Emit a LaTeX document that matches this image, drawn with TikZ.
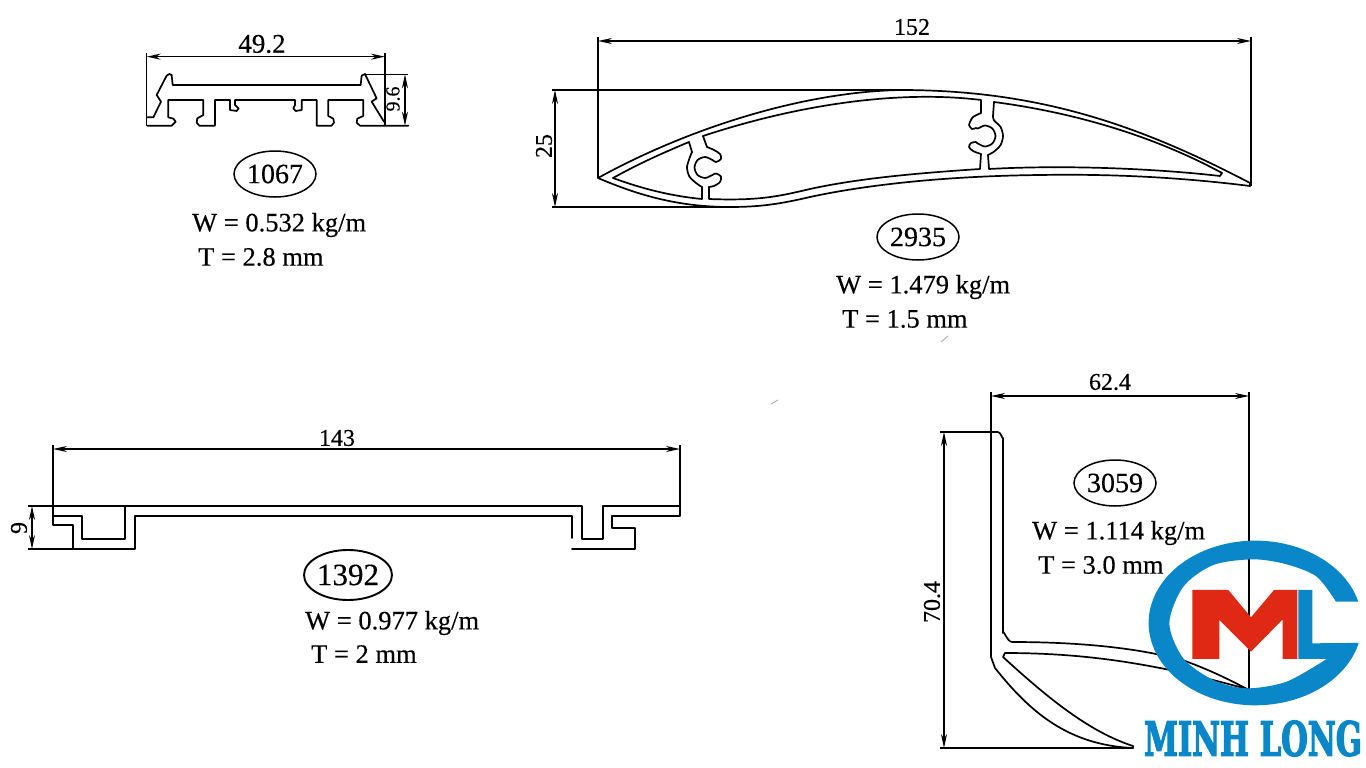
\documentclass[tikz,border=0pt]{standalone}
\usepackage{fontspec}
\usepackage{graphicx}
\setmainfont{Liberation Serif}[FakeBold=0.35]
\newfontfamily\logofont{DejaVu Serif}[UprightFont=* Condensed Bold,FakeBold=3]
\usetikzlibrary{arrows.meta,shapes.geometric}
\definecolor{logosininen}{rgb}{0.04, 0.53, 0.79}
\definecolor{logopunainen}{rgb}{0.88, 0.16, 0.08}
\tikzset{
	profiili/.style={line width=1.7pt,line join=round,line cap=round},
	apuviiva/.style={line width=1.4pt},
	mitta/.style={line width=1.4pt,{Stealth[length=14pt,width=6pt]}-{Stealth[length=14pt,width=6pt]}},
	mittateksti/.style={inner sep=0pt,font=\fontsize{24}{24}\selectfont},
	tunnus/.style={draw,ellipse,line width=1.5pt,inner sep=0pt,minimum width=82pt,minimum height=46pt,font=\fontsize{28}{28}\selectfont},
	tiedot/.style={anchor=west,inner sep=0pt,font=\fontsize{26.5}{26.5}\selectfont}
}
\begin{document}
\begin{tikzpicture}[x=1pt,y=-1pt]
	\useasboundingbox (0,0) rectangle (1366,768);
	% 1067
	\begin{scope}[shift={(130,30)},scale=0.3333]
		\draw[profiili] (52,262) -- (70,262) -- (93,215) -- (80,195) -- (110,137) -- (118,132) -- (125,135) -- (128,165) -- (692,165) -- (695,137) -- (705,132) -- (740,205) -- (725,215) -- (762,275);
		\draw[profiili] (52,287) -- (125,287) -- (137,275) -- (130,266) -- (115,262) -- (115,210) -- (220,210) -- (220,255) -- (202,265) -- (200,278) -- (208,287) -- (255,287) -- (255,210) -- (300,210) -- (300,240) -- (320,243) -- (326,235) -- (315,225) -- (315,210) -- (495,210) -- (495,225) -- (490,235) -- (497,243) -- (515,240) -- (515,210) -- (560,210) -- (560,287) -- (605,287) -- (612,278) -- (610,266) -- (595,258) -- (595,210) -- (700,210) -- (700,258) -- (682,266) -- (680,278) -- (690,287) -- (835,287);
		\draw[apuviiva] (50,68) -- (50,288);
		\draw[apuviiva] (765,68) -- (765,288);
		\draw[apuviiva] (700,133) -- (835,133);
		\draw[mitta] (50,80) -- (765,80);
		\draw[mitta] (825,133) -- (825,287);
	\end{scope}
	\node[mittateksti,font=\fontsize{27}{27}\selectfont] (mittaA) at (262,44) {49.2};
	\node[mittateksti,font=\fontsize{20}{20}\selectfont,rotate=90] (mittaB) at (393,99) {9.6};
	\node[tunnus] (tunnusA) at (275,174) {1067};
	\node[tiedot] (painoA) at (192,225) {W = 0.532 kg/m};
	\node[tiedot] (paksuusA) at (198,257) {T = 2.8 mm};
	% 2935
	\draw[profiili] (598,178) .. controls (685,130) and (800,92) .. (900,90) .. controls (1030,90) and (1130,120) .. (1250,183) -- (1250,186);
	\draw[profiili] (1250,186) .. controls (1170,176) and (1100,174) .. (1040,175) .. controls (950,176) and (870,184) .. (810,197) .. controls (780,204) and (760,207) .. (730,207) .. controls (680,207) and (640,196) .. (598,178);
	\draw[profiili] (613,178) .. controls (640,163) and (665,152) .. (689,142) -- (692,152);
	\draw[profiili] plot[smooth,tension=0.5] coordinates {(692,152) (689.4,158.5) (687,167.5) (689.4,176.5) (696,183) (702,187)};
	\draw[profiili] (702,187) -- (702,199) .. controls (670,196) and (640,188) .. (613,178);
	\draw[profiili] (703,136) -- (707,147);
	\draw[profiili] plot[smooth,tension=0.5] coordinates {(707,147) (714,150) (720,154) (721,159) (716,162) (712.4,160) (705,157) (697.6,160) (694.5,167.5) (697.6,175) (705,178) (712.4,175) (716,173.5) (721,176.5) (720,182) (714,186) (709,187)};
	\draw[profiili] (709,187) -- (709,199) .. controls (760,201) and (780,196) .. (810,189) .. controls (860,178) and (920,173) .. (980,169) -- (981,154);
	\draw[profiili] plot[smooth,tension=0.5] coordinates {(981,154) (973,151) (969,147) (971,143) (976,142) (977.6,143.4) (985,146.5) (992.4,143.4) (995.5,136) (992.4,128.6) (985,125.5) (977.6,128.6) (976,128) (972,129) (969,125) (970,122) (973,117) (981,113)};
	\draw[profiili] (981,113) -- (981,100) .. controls (900,90) and (800,104) .. (703,136);
	\draw[profiili] (994,102) -- (993,116);
	\draw[profiili] plot[smooth,tension=0.5] coordinates {(993,116) (994,120.4) (1000.6,127) (1003,136) (1000.6,145) (994,151.6) (988,155)};
	\draw[profiili] (988,155) -- (989,169) .. controls (1060,165) and (1150,168) .. (1220,176) -- (1222,173) .. controls (1150,134) and (1070,112) .. (994,102);
	\draw[apuviiva] (598,37) -- (598,178);
	\draw[apuviiva] (1251,37) -- (1251,186);
	\draw[apuviiva] (552,90) -- (900,90);
	\draw[apuviiva] (552,207) -- (725,207);
	\draw[mitta] (598,41) -- (1251,41);
	\draw[mitta] (555,90) -- (555,207);
	\node[mittateksti] (mittaC) at (912,27) {152};
	\node[mittateksti,rotate=90] (mittaD) at (544,146) {25};
	\node[tunnus] (tunnusB) at (918,237) {2935};
	\node[tiedot] (painoB) at (836,287) {W = 1.479 kg/m};
	\node[tiedot] (paksuusB) at (842,319) {T = 1.5 mm};
	% 1392
	\draw[profiili] (53,506) -- (582,506) -- (582,539) -- (603,539) -- (603,506) -- (680,506);
	\draw[profiili] (125,506) -- (125,539) -- (82,539) -- (82,516) -- (53,516);
	\draw[profiili] (53,525) -- (73,525) -- (73,549) -- (135,549) -- (135,516) -- (572,516) -- (572,538);
	\draw[profiili] (572,549) -- (635,549) -- (635,528) -- (612,528) -- (612,516) -- (680,516);
	\draw[apuviiva] (53,445) -- (53,525);
	\draw[apuviiva] (680,445) -- (680,516);
	\draw[apuviiva] (28,506) -- (53,506);
	\draw[apuviiva] (28,549) -- (73,549);
	\draw[mitta] (53,449) -- (680,449);
	\draw[mitta] (32,506) -- (32,549);
	\node[mittateksti] (mittaE) at (337,438) {143};
	\node[mittateksti,rotate=90] (mittaF) at (19,528) {9};
	\node[tunnus,line width=1.9pt,minimum width=88pt,minimum height=50pt,font=\fontsize{31}{31}\selectfont] (tunnusC) at (348,575) {1392};
	\node[tiedot] (painoC) at (305,623) {W = 0.977 kg/m};
	\node[tiedot] (paksuusC) at (311,654) {T = 2 mm};
	% 3059
	\draw[profiili] (991,432) -- (991,657) -- (995,668) .. controls (1030,712) and (1068,745) .. (1133,748) -- (1133,746) .. controls (1090,732) and (1050,700) .. (1003,657) -- (1005,653) .. controls (1070,653) and (1120,660) .. (1165,669) .. controls (1195,675) and (1225,683) .. (1247,689);
	\draw[profiili] (1247,689) .. controls (1230,680) and (1210,670) .. (1185,661) .. controls (1140,648) and (1080,642) .. (1012,642) to[out=180,in=90] (1003,633) -- (1003,438) to[out=-90,in=0] (998,432);
	\draw[apuviiva] (991,392) -- (991,432);
	\draw[apuviiva] (1249,392) -- (1249,689);
	\draw[apuviiva] (940,432) -- (998,432);
	\draw[apuviiva] (940,748) -- (1133,748);
	\draw[mitta] (991,396) -- (1249,396);
	\draw[mitta] (944,432) -- (944,748);
	\node[mittateksti] (mittaG) at (1110,382) {62.4};
	\node[mittateksti,rotate=90] (mittaH) at (932,602) {70.4};
	\node[tunnus] (tunnusD) at (1115,483) {3059};
	\node[tiedot] (painoD) at (1032,533) {W = 1.114 kg/m};
	\node[tiedot] (paksuusD) at (1038,565) {T = 3.0 mm};
	% naarmut
	\draw[gray!60,line width=1pt] (941,342) -- (948,336);
	\draw[gray!60,line width=1pt] (771,404) -- (778,400);
	% logo
	\begin{scope}[shift={(1130,530)},scale=0.3333]
		\fill[logosininen] (685,215) arc[start angle=-15,end angle=-346,x radius=320,y radius=247] -- (547,340) -- (547,180) -- (505,180) -- (505,387) --
			plot[smooth] coordinates {(590,387) (470,455) (350,475) (250,450) (160,385) (118,280) (160,170) (250,105) (370,88) (470,103) (560,140) (618,215)} -- cycle;
		\fill[logopunainen] (187,180) -- (295,180) -- (363,262) -- (432,180) -- (502,180) -- (502,387) -- (458,387) -- (458,268) -- (363,365) -- (268,270) -- (268,387) -- (187,387) -- cycle;
	\end{scope}
	\node[inner sep=0pt,text=logosininen] (logonimi) at (1253,738.5) {\resizebox{218pt}{35pt}{\logofont MINH LONG}};
\end{tikzpicture}
\end{document}
